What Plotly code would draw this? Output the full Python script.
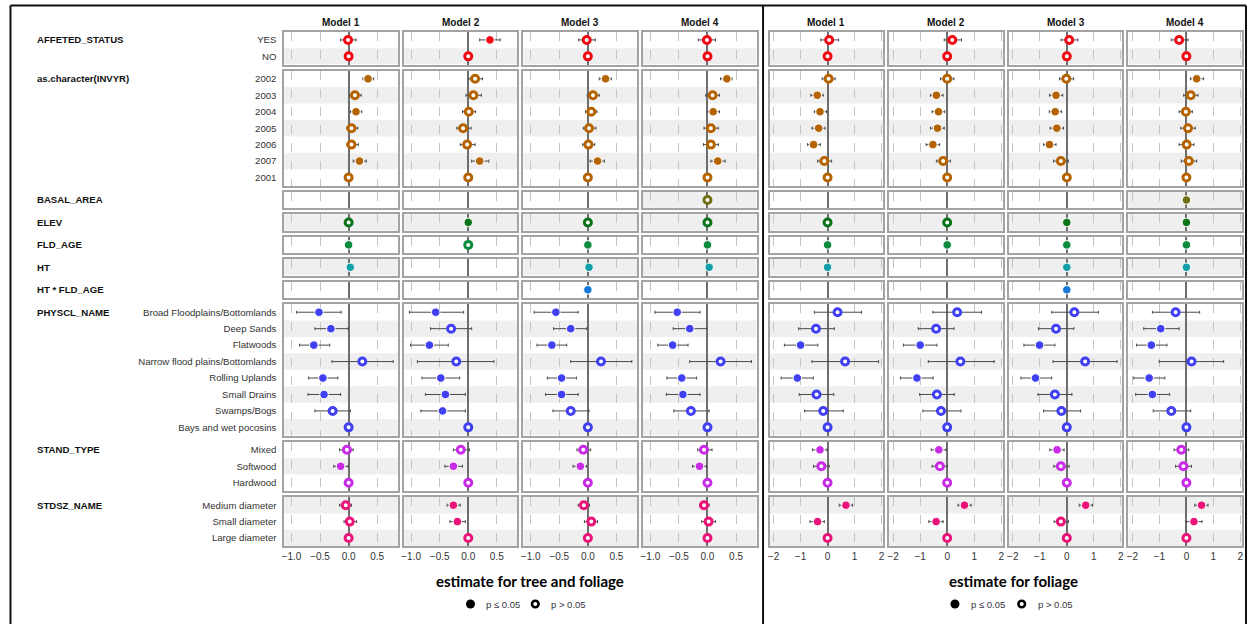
import plotly.graph_objects as go

W, H = 1250, 624
REF = (0, None, None, 0)   # reference level: estimate 0, no interval, open marker
N = None

# ---------------- data: (estimate, ci_low, ci_high, significant) per row, one list per model ----------------
models = ["Model 1", "Model 2", "Model 3", "Model 4"]
panel_titles = ["estimate for tree and foliage", "estimate for foliage"]

terms = ["AFFETED_STATUS", "as.character(INVYR)", "BASAL_AREA", "ELEV", "FLD_AGE",
         "HT", "HT * FLD_AGE", "PHYSCL_NAME", "STAND_TYPE", "STDSZ_NAME"]

affected_levels = ["YES", "NO"]
invyr_levels = ["2002", "2003", "2004", "2005", "2006", "2007", "2001"]
single_level = [""]
physcl_levels = ["Broad Floodplains/Bottomlands", "Deep Sands", "Flatwoods",
                 "Narrow flood plains/Bottomlands", "Rolling Uplands", "Small Drains",
                 "Swamps/Bogs", "Bays and wet pocosins"]
stand_levels = ["Mixed", "Softwood", "Hardwood"]
stdsz_levels = ["Medium diameter", "Small diameter", "Large diameter"]

# ---- tree and foliage ----
affected_tree = [
    [(-0.01, -0.14, 0.13, 0), REF],
    [(0.38, 0.20, 0.56, 1), REF],
    [(-0.02, -0.16, 0.13, 0), REF],
    [(-0.01, -0.16, 0.14, 0), REF],
]
invyr_tree = [
    [(0.34, 0.25, 0.44, 1), (0.11, 0.02, 0.22, 0), (0.13, 0.03, 0.23, 1), (0.05, -0.03, 0.16, 0),
     (0.05, -0.03, 0.17, 0), (0.19, 0.08, 0.31, 1), REF],
    [(0.12, 0.01, 0.25, 0), (0.09, -0.04, 0.23, 0), (0.01, -0.10, 0.13, 0), (-0.09, -0.20, 0.05, 0),
     (-0.02, -0.14, 0.12, 0), (0.20, 0.06, 0.36, 1), REF],
    [(0.31, 0.20, 0.41, 1), (0.09, -0.01, 0.20, 0), (0.06, -0.04, 0.16, 0), (0.02, -0.08, 0.14, 0),
     (0.01, -0.09, 0.12, 0), (0.17, 0.04, 0.29, 1), REF],
    [(0.34, 0.23, 0.43, 1), (0.09, -0.03, 0.21, 0), (0.10, 0.00, 0.21, 1), (0.06, -0.06, 0.19, 0),
     (0.06, -0.07, 0.19, 0), (0.18, 0.06, 0.31, 1), REF],
]
basal_tree = [None, None, None, [(0, N, N, 0)]]
elev_tree = [[(0, N, N, 0)], [(0, N, N, 1)], [(0, N, N, 0)], [(0, N, N, 0)]]
fld_tree = [[(0, N, N, 1)], [(0, N, N, 0)], [(0, N, N, 1)], [(0, N, N, 1)]]
ht_tree = [[(0.03, N, N, 1)], None, [(0.02, N, N, 1)], [(0.03, N, N, 1)]]
htfld_tree = [None, None, [(0, N, N, 1)], None]
physcl_tree = [
    [(-0.52, -0.91, -0.13, 1), (-0.31, -0.59, -0.01, 1), (-0.61, -0.86, -0.33, 1), (0.24, -0.29, 0.78, 0),
     (-0.45, -0.70, -0.19, 1), (-0.43, -0.71, -0.14, 1), (-0.28, -0.59, 0.03, 0), REF],
    [(-0.57, -1.03, -0.08, 1), (-0.30, -0.66, 0.06, 0), (-0.68, -1.01, -0.35, 1), (-0.21, -0.89, 0.45, 0),
     (-0.48, -0.81, -0.15, 1), (-0.40, -0.75, -0.05, 1), (-0.45, -0.83, -0.05, 1), REF],
    [(-0.56, -0.94, -0.17, 1), (-0.30, -0.60, -0.02, 1), (-0.63, -0.89, -0.37, 1), (0.23, -0.30, 0.77, 0),
     (-0.46, -0.71, -0.20, 1), (-0.46, -0.74, -0.17, 1), (-0.30, -0.61, 0.02, 0), REF],
    [(-0.53, -0.92, -0.13, 1), (-0.31, -0.60, -0.01, 1), (-0.61, -0.87, -0.34, 1), (0.23, -0.31, 0.77, 0),
     (-0.45, -0.71, -0.19, 1), (-0.43, -0.72, -0.13, 1), (-0.29, -0.59, 0.03, 0), REF],
]
stand_tree = [
    [(-0.03, -0.16, 0.08, 0), (-0.14, -0.26, -0.01, 1), REF],
    [(-0.13, -0.26, 0.02, 0), (-0.26, -0.41, -0.10, 1), REF],
    [(-0.08, -0.19, 0.05, 0), (-0.13, -0.26, -0.02, 1), REF],
    [(-0.06, -0.17, 0.08, 0), (-0.14, -0.26, -0.02, 1), REF],
]
stdsz_tree = [
    [(-0.05, -0.16, 0.05, 0), (0.02, -0.08, 0.14, 0), REF],
    [(-0.26, -0.37, -0.14, 1), (-0.19, -0.32, -0.05, 1), REF],
    [(-0.07, -0.17, 0.03, 0), (0.06, -0.06, 0.17, 0), REF],
    [(-0.06, -0.14, 0.03, 0), (0.02, -0.10, 0.14, 0), REF],
]

# ---- foliage ----
affected_fol = [
    [(0.06, -0.25, 0.41, 0), REF],
    [(0.19, -0.11, 0.53, 0), REF],
    [(0.09, -0.21, 0.41, 0), REF],
    [(-0.27, -0.56, 0.06, 0), REF],
]
invyr_fol = [
    [(0.04, -0.20, 0.28, 0), (-0.38, -0.62, -0.16, 1), (-0.28, -0.49, -0.04, 1), (-0.33, -0.58, -0.09, 1),
     (-0.52, -0.74, -0.27, 1), (-0.12, -0.37, 0.15, 0), REF],
    [(0.00, -0.25, 0.25, 0), (-0.40, -0.62, -0.15, 1), (-0.32, -0.56, -0.09, 1), (-0.36, -0.62, -0.11, 1),
     (-0.53, -0.78, -0.28, 1), (-0.15, -0.40, 0.12, 0), REF],
    [(-0.02, -0.27, 0.25, 0), (-0.40, -0.64, -0.15, 1), (-0.43, -0.65, -0.19, 1), (-0.37, -0.62, -0.12, 1),
     (-0.64, -0.86, -0.40, 1), (-0.22, -0.49, 0.06, 0), REF],
    [(0.38, 0.15, 0.64, 1), (0.16, -0.10, 0.43, 0), (-0.02, -0.27, 0.22, 0), (0.06, -0.21, 0.33, 0),
     (0.01, -0.27, 0.28, 0), (0.09, -0.19, 0.38, 0), REF],
]
basal_fol = [None, None, None, [(0, N, N, 1)]]
elev_fol = [[(0, N, N, 0)], [(0, N, N, 0)], [(0, N, N, 1)], [(0, N, N, 1)]]
fld_fol = [[(0, N, N, 1)], [(0, N, N, 1)], [(0, N, N, 1)], [(0, N, N, 1)]]
ht_fol = [[(0, N, N, 1)], None, [(0, N, N, 1)], [(0, N, N, 1)]]
htfld_fol = [None, None, [(0, N, N, 1)], None]
physcl_fol = [
    [(0.37, -0.49, 1.26, 0), (-0.43, -1.07, 0.25, 0), (-1.00, -1.60, -0.36, 1), (0.65, -0.58, 1.89, 0),
     (-1.12, -1.72, -0.53, 1), (-0.41, -1.05, 0.23, 0), (-0.16, -0.85, 0.58, 0), REF],
    [(0.37, -0.53, 1.27, 0), (-0.41, -1.07, 0.25, 0), (-1.00, -1.62, -0.38, 1), (0.49, -0.70, 1.74, 0),
     (-1.12, -1.73, -0.52, 1), (-0.38, -1.02, 0.26, 0), (-0.23, -0.90, 0.51, 0), REF],
    [(0.28, -0.56, 1.17, 0), (-0.40, -1.05, 0.26, 0), (-1.01, -1.59, -0.44, 1), (0.68, -0.51, 1.86, 0),
     (-1.16, -1.70, -0.56, 1), (-0.44, -1.07, 0.19, 0), (-0.20, -0.86, 0.51, 0), REF],
    [(-0.40, -1.26, 0.49, 0), (-0.95, -1.58, -0.27, 1), (-1.30, -1.85, -0.72, 1), (0.19, -1.01, 1.38, 0),
     (-1.38, -1.95, -0.80, 1), (-1.26, -1.88, -0.62, 1), (-0.56, -1.23, 0.16, 0), REF],
]
stand_fol = [
    [(-0.28, -0.56, -0.02, 1), (-0.23, -0.52, 0.06, 0), REF],
    [(-0.31, -0.59, -0.04, 1), (-0.27, -0.56, 0.01, 0), REF],
    [(-0.36, -0.63, -0.10, 1), (-0.22, -0.48, 0.09, 0), REF],
    [(-0.19, -0.46, 0.09, 0), (-0.11, -0.40, 0.19, 0), REF],
]
stdsz_fol = [
    [(0.68, 0.43, 0.93, 1), (-0.37, -0.65, -0.12, 1), REF],
    [(0.64, 0.40, 0.89, 1), (-0.41, -0.68, -0.15, 1), REF],
    [(0.70, 0.46, 0.95, 1), (-0.22, -0.47, 0.06, 0), REF],
    [(0.56, 0.31, 0.80, 1), (0.28, 0.00, 0.58, 1), REF],
]

tree_ticks = [-1.0, -0.5, 0.0, 0.5]
fol_ticks = [-2, -1, 0, 1, 2]

# ---------------- styling ----------------
term_levels = [affected_levels, invyr_levels, single_level, single_level, single_level,
               single_level, single_level, physcl_levels, stand_levels, stdsz_levels]
tree_data = [affected_tree, invyr_tree, basal_tree, elev_tree, fld_tree, ht_tree,
             htfld_tree, physcl_tree, stand_tree, stdsz_tree]
fol_data = [affected_fol, invyr_fol, basal_fol, elev_fol, fld_fol, ht_fol,
            htfld_fol, physcl_fol, stand_fol, stdsz_fol]
term_colors = ["#F00A14", "#B46300", "#707010", "#0A7418", "#0B8C3C",
               "#12A0A8", "#1778D8", "#4040F2", "#C82AE8", "#EA1478"]
stripes = [[0, 1], [0, 1, 0, 1, 0, 1, 0], [1], [1], [0], [1], [0],
           [0, 1, 0, 1, 0, 1, 0, 1], [0, 1, 0], [1, 0, 1]]

panel_x = [(283, 397), (403, 517), (523, 637), (643, 757),
           (770, 884), (890, 1004), (1010, 1124), (1130, 1244)]
x_ranges = [[-1.13, 0.86], [-2.15, 2.06]]
ROW_H, GAP, TOP0 = 16.45, 6.0, 31.7
BORDER = "#A3A3A3"
TXT = "#333333"
FONT = "Liberation Sans, Arial, sans-serif"

tops = []
yy = TOP0
for lv in term_levels:
    h = len(lv) * ROW_H
    tops.append((yy, yy + h))
    yy += h + GAP

fig = go.Figure()
layout = {}
shapes = []
annotations = []

k = 0
for side in range(2):
    dsets = tree_data if side == 0 else fol_data
    ticks = tree_ticks if side == 0 else fol_ticks
    for m in range(4):
        p = side * 4 + m
        x0px, x1px = panel_x[p]
        for t in range(len(terms)):
            k += 1
            sx = "" if k == 1 else str(k)
            n = len(term_levels[t])
            y0px, y1px = tops[t]
            bottom = (t == len(terms) - 1)
            layout["xaxis" + sx] = dict(
                domain=[x0px / W, x1px / W], anchor="y" + sx, range=x_ranges[side],
                tickvals=ticks, tickformat=".1f" if side == 0 else "d",
                showgrid=True, gridcolor="#C4C4C4", griddash="dash", gridwidth=1,
                zeroline=True, zerolinecolor="#6E6E6E", zerolinewidth=1.5,
                showline=True, mirror=True, linecolor=BORDER, linewidth=1.5,
                showticklabels=bottom, ticks="",
                tickfont=dict(size=10, color=TXT, family=FONT),
                fixedrange=True)
            layout["yaxis" + sx] = dict(
                domain=[1 - y1px / H, 1 - y0px / H], anchor="x" + sx, range=[n - 0.5, -0.5],
                tickvals=list(range(n)), ticktext=term_levels[t],
                showticklabels=(p == 0), ticks="outside", ticklen=4,
                tickcolor="rgba(0,0,0,0)", tickfont=dict(size=9.6, color=TXT, family=FONT),
                showgrid=False, zeroline=False, showline=True, mirror=True,
                linecolor=BORDER, linewidth=1.5, fixedrange=True)
            rows = dsets[t][m]
            if rows is None:
                fig.add_trace(go.Scatter(x=[None], y=[None], xaxis="x" + sx, yaxis="y" + sx,
                                         showlegend=False, hoverinfo="skip"))
                continue
            xref_dom = ("x" + sx + " domain")
            for i, s in enumerate(stripes[t]):
                if s:
                    shapes.append(dict(type="rect", xref=xref_dom, x0=0, x1=1, yref="y" + sx,
                                       y0=i - 0.5, y1=i + 0.5, fillcolor="#EFEFEF",
                                       line=dict(width=0), layer="below"))
            col = term_colors[t]
            est = [r[0] for r in rows]
            plus = [(r[2] - r[0]) if r[2] is not None else 0 for r in rows]
            minus = [(r[0] - r[1]) if r[1] is not None else 0 for r in rows]
            sig = [r[3] for r in rows]
            fig.add_trace(go.Scatter(
                x=est, y=list(range(n)), xaxis="x" + sx, yaxis="y" + sx, mode="markers",
                opacity=1,
                marker=dict(size=[8.5 if s else 7 for s in sig], opacity=1,
                            color=[col if s else "white" for s in sig],
                            line=dict(color=["white" if s else col for s in sig],
                                      width=[1 if s else 3 for s in sig])),
                error_x=dict(type="data", symmetric=False, array=plus, arrayminus=minus,
                             color="#4A4A4A", thickness=1, width=1.5),
                showlegend=False, hoverinfo="skip"))

# term labels
for t, name in enumerate(terms):
    yc = tops[t][0] + ROW_H / 2
    annotations.append(dict(text=name, x=33 / W, y=1 - yc / H, xref="paper", yref="paper",
                            xanchor="left", yanchor="middle", showarrow=False,
                            font=dict(size=9.6, color="#111111", family=FONT, weight="bold")))
# model titles
for p in range(8):
    xc = (panel_x[p][0] + panel_x[p][1]) / 2
    annotations.append(dict(text=models[p % 4], x=xc / W, y=1 - 23 / H, xref="paper", yref="paper",
                            xanchor="center", yanchor="middle", showarrow=False,
                            font=dict(size=10, color="#111111", family=FONT, weight="bold")))
# panel titles and legends
title_x = [529.7, 1015]
legend_pos = [(470, 535), (956, 1023)]
for side in range(2):
    annotations.append(dict(text=panel_titles[side], x=title_x[side] / W, y=1 - 580.5 / H,
                            xref="paper", yref="paper", xanchor="center", yanchor="middle",
                            showarrow=False,
                            font=dict(size=15, color="#000000", family="Lato, Open Sans, sans-serif",
                                      weight="bold")))
    fx, ox = legend_pos[side]
    ly = 1 - 604 / H
    shapes.append(dict(type="circle", xref="paper", yref="paper", xsizemode="pixel",
                       ysizemode="pixel", xanchor=fx / W, yanchor=ly, x0=-4.5, x1=4.5,
                       y0=-4.5, y1=4.5, fillcolor="#000000", line=dict(width=0)))
    shapes.append(dict(type="circle", xref="paper", yref="paper", xsizemode="pixel",
                       ysizemode="pixel", xanchor=ox / W, yanchor=ly, x0=-3.3, x1=3.3,
                       y0=-3.3, y1=3.3, fillcolor="#FFFFFF", line=dict(width=2.6, color="#000000")))
    annotations.append(dict(text="p ≤ 0.05", x=(fx + 14) / W, y=ly, xref="paper", yref="paper",
                            xanchor="left", yanchor="middle", showarrow=False,
                            font=dict(size=9.5, color="#333344", family=FONT)))
    annotations.append(dict(text="p > 0.05", x=(ox + 14) / W, y=ly, xref="paper", yref="paper",
                            xanchor="left", yanchor="middle", showarrow=False,
                            font=dict(size=9.5, color="#333344", family=FONT)))

# outer frame and separator
for (x0, y0, x1, y1) in [(8.5, 5.5, 8.5, 624), (8.5, 5.5, 1248, 5.5), (1248, 5.5, 1248, 624),
                         (763.5, 5.5, 763.5, 624)]:
    shapes.append(dict(type="line", xref="paper", yref="paper", x0=x0 / W, x1=x1 / W,
                       y0=1 - y0 / H, y1=1 - y1 / H, line=dict(color="#111111", width=2)))

fig.update_layout(**layout)
fig.update_layout(width=W, height=H, margin=dict(l=0, r=0, t=0, b=0, pad=0),
                  paper_bgcolor="white", plot_bgcolor="white", showlegend=False,
                  shapes=shapes, annotations=annotations, font=dict(family=FONT))
fig.write_html("out.html")
